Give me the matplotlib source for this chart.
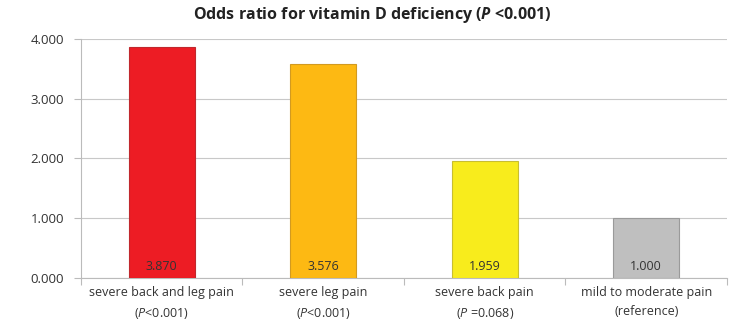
import numpy as np
from matplotlib import pyplot as plt

categories = [
    "severe back and leg pain\n($P$<0.001)",
    "severe leg pain\n($P$<0.001)",
    "severe back pain\n($P$ =0.068)",
    "mild to moderate pain\n(reference)",
]
odds = [3.870, 3.576, 1.959, 1.000]
bar_colors = ["#ED1C24", "#FDB913", "#F8EC1C", "#BFBFBF"]
edge_colors = ["#C0282D", "#D29A20", "#C8BE30", "#9A9A9A"]
yticks = [0, 1, 2, 3, 4]

plt.rcParams["font.family"] = ["Open Sans", "DejaVu Sans"]
plt.rcParams["mathtext.fontset"] = "custom"
plt.rcParams["mathtext.it"] = "Open Sans:italic"
plt.rcParams["mathtext.rm"] = "Open Sans"
plt.rcParams["mathtext.bfit"] = "Open Sans:italic:bold"

fig = plt.figure(figsize=(7.45, 3.32), dpi=100)
ax = fig.add_axes((0.1087, 0.1627, 0.8671, 0.7198))

x = np.arange(len(odds))
ax.bar(x, odds, width=0.41, color=bar_colors, edgecolor=edge_colors, linewidth=0.8, zorder=3)
for xi, v in zip(x, odds):
    ax.text(xi, 0.2, f"{v:.3f}", ha="center", va="center", fontsize=9, color="#333333", zorder=4)

ax.set_xlim(-0.5, len(odds) - 0.5)
ax.set_ylim(0, 4)
ax.set_yticks(yticks)
ax.set_yticklabels([f"{t:.3f}" for t in yticks], fontsize=9.5, color="#333333")
ax.set_xticks(x)
ax.set_xticklabels(categories, fontsize=9, color="#333333", linespacing=1.6)
ax.tick_params(axis="x", length=0, pad=6)
ax.set_xticks(np.arange(-0.5, len(odds), 1.0), minor=True)
ax.tick_params(axis="x", which="minor", length=5, color="#BBBBBB", width=0.8)
ax.tick_params(axis="y", length=5, color="#BBBBBB", width=0.8, pad=7)

ax.grid(axis="y", color="#C8C8C8", linewidth=0.8, zorder=0)
for s in ["top", "right"]:
    ax.spines[s].set_visible(False)
for s in ["left", "bottom"]:
    ax.spines[s].set_color("#BBBBBB")
    ax.spines[s].set_linewidth(0.8)

fig.suptitle(r"Odds ratio for vitamin D deficiency ($\mathbfit{P}$ <0.001)", x=0.5, y=0.985,
             fontsize=11.5, fontweight="bold", color="#222222")

fig.savefig("out.png", dpi=100)
